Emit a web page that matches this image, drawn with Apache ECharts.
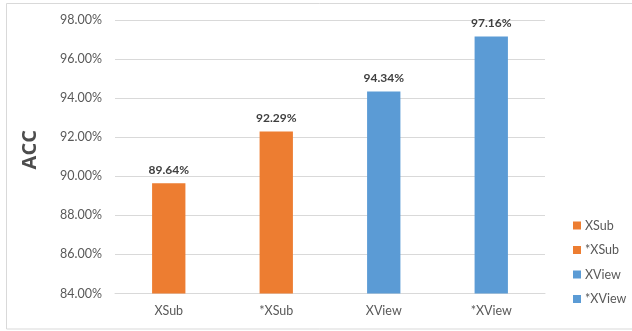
<!DOCTYPE html>
<html>
<head>
<meta charset="utf-8">
<style>
  html, body { margin: 0; padding: 0; background: #fff; }
  #chart { width: 632px; height: 331px; }
</style>
<script src="https://cdn.jsdelivr.net/npm/echarts@6/dist/echarts.min.js"></script>
</head>
<body>
<div id="chart"></div>
<script>
// Accuracy per evaluation setting
const categories = ['XSub', '*XSub', 'XView', '*XView'];
const accValues = [89.64, 92.29, 94.34, 97.16];
const barColors = ['#ED7D31', '#ED7D31', '#5B9BD5', '#5B9BD5'];
const yTicks = { min: 84, max: 98, step: 2 };

const FONT = 'Lato, "Open Sans", sans-serif';

// One series per setting so each gets its own legend entry; barGap -100% keeps
// every bar centred in its category.
const series = categories.map((name, i) => ({
  name: name,
  type: 'bar',
  barWidth: '31%',
  barGap: '-100%',
  itemStyle: { color: barColors[i] },
  label: {
    show: true,
    position: 'top',
    distance: 7,
    fontFamily: FONT,
    fontSize: 12,
    fontWeight: 'bold',
    color: '#404040',
    formatter: p => p.value.toFixed(2) + '%'
  },
  data: categories.map((c, j) => (j === i ? accValues[i] : '-'))
}));

const chart = echarts.init(document.getElementById('chart'), null, { renderer: 'canvas' });
chart.setOption({
  animation: false,
  backgroundColor: '#fff',
  textStyle: { fontFamily: FONT },
  graphic: [{
    type: 'rect',
    shape: { x: 6.5, y: 3.5, width: 700, height: 325.5 },
    style: { fill: 'none', stroke: '#D9D9D9', lineWidth: 1 },
    silent: true,
    z: -10
  }],
  grid: { left: 115, right: 87, top: 20, bottom: 37.5 },
  legend: {
    orient: 'vertical',
    left: 568,
    top: 214,
    itemWidth: 8,
    itemHeight: 8,
    itemGap: 11.5,
    icon: 'rect',
    textStyle: { fontFamily: FONT, fontSize: 12.5, color: '#595959', padding: [0, 0, 0, -1] },
    data: categories
  },
  xAxis: {
    type: 'category',
    data: categories,
    axisTick: { show: false },
    axisLine: { lineStyle: { color: '#D9D9D9', width: 1 } },
    axisLabel: { fontFamily: FONT, fontSize: 12.5, color: '#595959', margin: 11 }
  },
  yAxis: {
    type: 'value',
    min: yTicks.min,
    max: yTicks.max,
    interval: yTicks.step,
    name: 'ACC',
    nameLocation: 'middle',
    nameGap: 75,
    nameTextStyle: {
      fontFamily: '"Open Sans", Lato, sans-serif', fontSize: 20, fontWeight: 700,
      color: '#4D4D4D', padding: [0, 0, 0, 14]
    },
    axisLine: { show: false },
    axisTick: { show: false },
    splitLine: { lineStyle: { color: '#D9D9D9', width: 1 } },
    axisLabel: {
      fontFamily: FONT, fontSize: 12.5, color: '#595959', margin: 13,
      formatter: v => v.toFixed(2) + '%'
    }
  },
  series: series
});
</script>
</body>
</html>
